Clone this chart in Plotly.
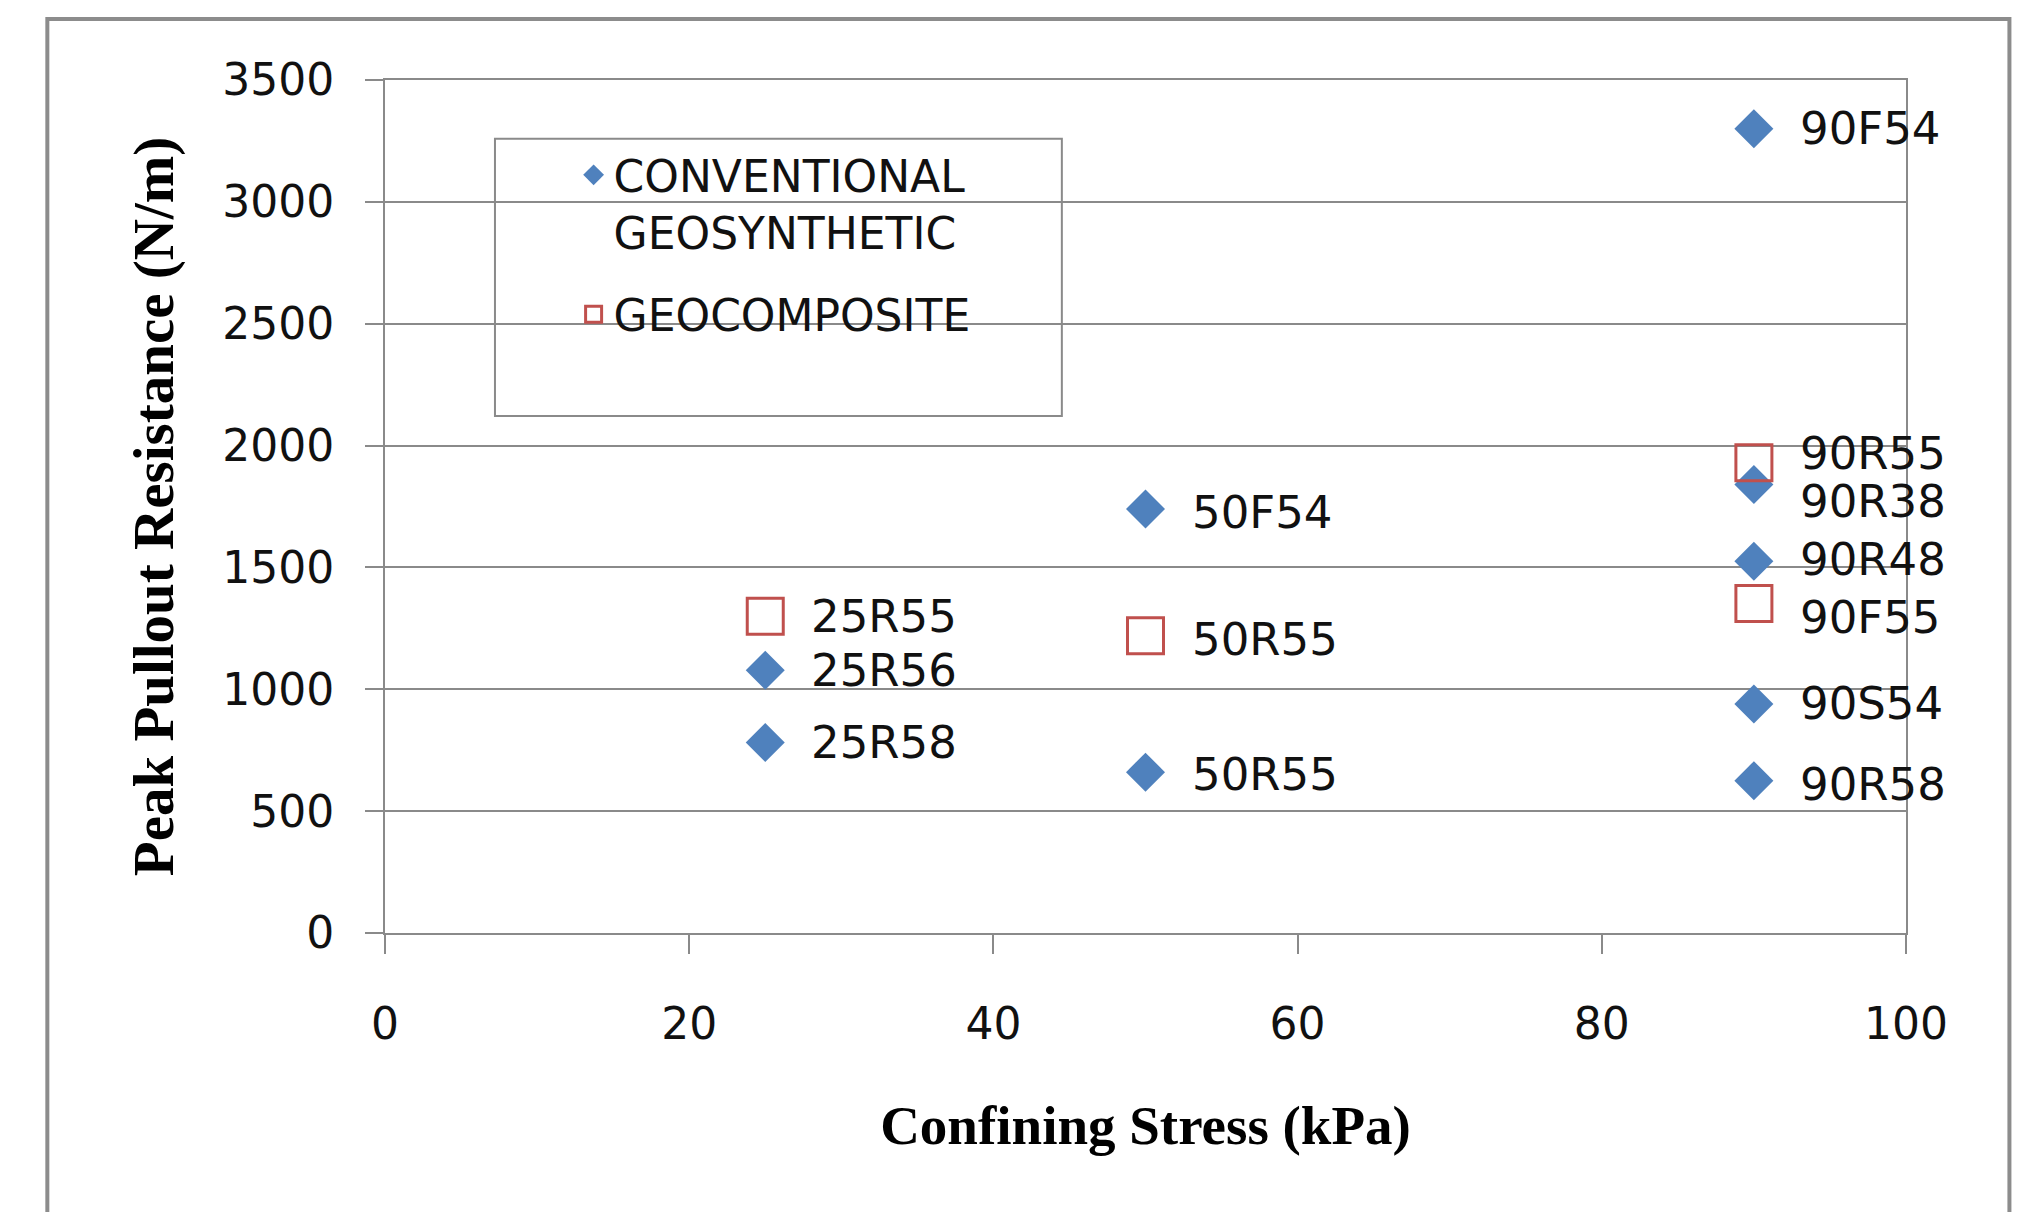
import plotly.graph_objects as go

# ---- data ----
conv_x = [90, 90, 90, 90, 90, 50, 50, 25, 25]
conv_y = [3300, 1840, 1525, 940, 625, 1740, 660, 1078, 782]
conv_labels = ["90F54", "90R38", "90R48", "90S54", "90R58", "50F54", "50R55", "25R56", "25R58"]

comp_x = [90, 90, 50, 25]
comp_y = [1930, 1352, 1220, 1300]
comp_labels = ["90R55", "90F55", "50R55", "25R55"]

x_ticks = [0, 20, 40, 60, 80, 100]
y_ticks = [0, 500, 1000, 1500, 2000, 2500, 3000, 3500]

# label vertical nudges (style only)
conv_yshift = [0, -17, 2, 0, -4, -4, -2, 0, 0]
comp_yshift = [9, -14, -4, 0]

BLUE = "#4F81BD"
RED = "#C0504D"
GRID = "#8a8a8a"
FONT = "DejaVu Sans"
SERIF = "Liberation Serif"

fig = go.Figure()
fig.add_trace(go.Scatter(
    x=conv_x, y=conv_y, mode="markers", name="CONVENTIONAL<br>GEOSYNTHETIC",
    legendgroup="conv",
    marker=dict(symbol="diamond", size=30, color=BLUE, line=dict(width=0)),
    cliponaxis=False,
))
fig.add_trace(go.Scatter(
    x=comp_x, y=comp_y, mode="markers", name="GEOCOMPOSITE",
    legendgroup="comp",
    marker=dict(symbol="square-open", size=36, color=RED, line=dict(width=3, color=RED)),
    cliponaxis=False,
))

annotations = []
for xs, ys, labs, shifts in [(conv_x, conv_y, conv_labels, conv_yshift),
                             (comp_x, comp_y, comp_labels, comp_yshift)]:
    for xv, yv, lab, sh in zip(xs, ys, labs, shifts):
        annotations.append(dict(
            x=xv, y=yv, xref="x", yref="y", text=lab, showarrow=False,
            xanchor="left", yanchor="middle", xshift=44, yshift=sh,
            font=dict(family=FONT, size=45, color="#111"),
        ))

fig.update_layout(
    width=2018, height=1212,
    margin=dict(l=385, r=112, t=80, b=279),
    paper_bgcolor="white", plot_bgcolor="white",
    showlegend=True,
    legend=dict(
        x=0.124, y=0.93, xanchor="left", yanchor="top",
        bgcolor="rgba(0,0,0,0)", borderwidth=0,
        font=dict(family=FONT, size=44, color="#111"),
        valign="top", tracegroupgap=22, itemsizing="trace",
    ),
    annotations=annotations,
    shapes=[
        # legend frame
        dict(type="rect", xref="paper", yref="paper", x0=0.0723, x1=0.445, y0=0.606, y1=0.931,
             line=dict(color=GRID, width=2), fillcolor="rgba(0,0,0,0)", layer="above"),
        # outer chart frame
        dict(type="rect", xref="paper", yref="paper", x0=-0.222, x1=1.068, y0=-0.45, y1=1.0715,
             line=dict(color="#8c8c8c", width=4), fillcolor="rgba(0,0,0,0)", layer="below"),
    ],
)

fig.update_xaxes(
    range=[0, 100], tickvals=x_ticks, ticks="outside", ticklen=19, tickwidth=2, tickcolor=GRID,
    showgrid=False, showline=True, linecolor=GRID, linewidth=2, mirror=True, zeroline=False,
    tickfont=dict(family=FONT, size=44, color="#111"), ticklabelstandoff=32,
    title=dict(text="<b>Confining Stress (kPa)</b>", font=dict(family=SERIF, size=55, color="#000"),
               standoff=58),
    automargin=False,
)
fig.update_yaxes(
    range=[0, 3500], tickvals=y_ticks, ticks="outside", ticklen=18, tickwidth=2, tickcolor=GRID,
    showgrid=True, gridcolor=GRID, gridwidth=2, showline=True, linecolor=GRID, linewidth=2,
    mirror=True, zeroline=False,
    tickfont=dict(family=FONT, size=44, color="#111"), ticklabelstandoff=22,
    title=dict(text="<b>Peak Pullout Resistance (N/m)</b>", font=dict(family=SERIF, size=57, color="#000"),
               standoff=30),
    automargin=False,
)

fig.write_html("out.html")
